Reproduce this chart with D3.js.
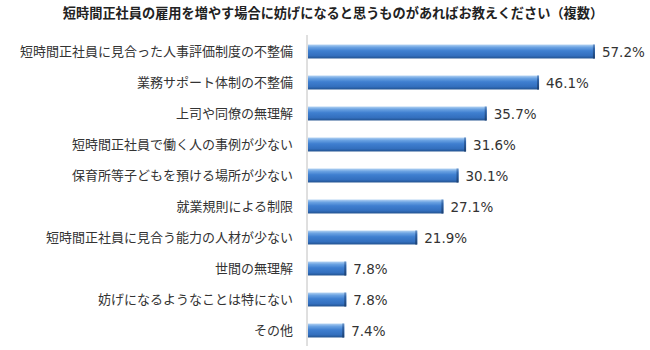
<!DOCTYPE html>
<html>
<head>
<meta charset="utf-8">
<script src="https://cdn.jsdelivr.net/npm/d3@7"></script>
<style>
  html, body { margin: 0; padding: 0; background: #fff; }
  svg { display: block; }
</style>
</head>
<body>
<svg id="chart" width="650" height="350"></svg>
<script>
const title = "短時間正社員の雇用を増やす場合に妨げになると思うものがあればお教えください（複数）";
const categories = [
  "短時間正社員に見合った人事評価制度の不整備",
  "業務サポート体制の不整備",
  "上司や同僚の無理解",
  "短時間正社員で働く人の事例が少ない",
  "保育所等子どもを預ける場所が少ない",
  "就業規則による制限",
  "短時間正社員に見合う能力の人材が少ない",
  "世間の無理解",
  "妨げになるようなことは特にない",
  "その他"
];
const values = [57.2, 46.1, 35.7, 31.6, 30.1, 27.1, 21.9, 7.8, 7.8, 7.4];

const svg = d3.select("#chart");
const jp = "'Noto Sans CJK JP', 'Noto Sans', sans-serif";

const x = d3.scaleLinear().domain([0, 60]).range([307, 609]);
const y = d3.scaleBand().domain(categories).range([36, 346])
  .paddingInner(0.55).paddingOuter(0.275);

// cylinder-like shading for bars
const defs = svg.append("defs");
const g = defs.append("linearGradient").attr("id", "barGrad")
  .attr("x1", 0).attr("y1", 0).attr("x2", 0).attr("y2", 1);
[[0, "#b4d3f3"], [0.2, "#6aa2e2"], [0.45, "#3f7fd0"], [0.8, "#336fbe"], [1, "#22528f"]]
  .forEach(([o, c]) => g.append("stop").attr("offset", o).attr("stop-color", c));
const gc = defs.append("linearGradient").attr("id", "capGrad")
  .attr("x1", 0).attr("y1", 0).attr("x2", 0).attr("y2", 1);
[[0, "#6b95c8"], [0.3, "#2f62a6"], [1, "#1b3f70"]]
  .forEach(([o, c]) => gc.append("stop").attr("offset", o).attr("stop-color", c));

svg.append("text")
  .attr("x", 333).attr("y", 18)
  .attr("text-anchor", "middle")
  .attr("font-family", jp).attr("font-weight", "bold")
  .attr("font-size", 13.2).attr("fill", "#222")
  .text(title);

// category axis line
svg.append("line")
  .attr("x1", x(0)).attr("x2", x(0))
  .attr("y1", 35).attr("y2", 346)
  .attr("stroke", "#c0c0c0").attr("stroke-width", 1);

const rows = svg.append("g").selectAll("g")
  .data(categories.map((c, i) => ({ c, v: values[i] })))
  .join("g");

rows.append("rect")
  .attr("x", x(0) + 1)
  .attr("y", d => y(d.c))
  .attr("width", d => x(d.v) - x(0) - 1)
  .attr("height", y.bandwidth())
  .attr("fill", "url(#barGrad)");

rows.append("rect")
  .attr("x", d => x(d.v) - 2)
  .attr("y", d => y(d.c))
  .attr("width", 2)
  .attr("height", y.bandwidth())
  .attr("fill", "url(#capGrad)");

rows.append("text")
  .attr("x", 293)
  .attr("y", d => y(d.c) + y.bandwidth() / 2 + 4.5)
  .attr("text-anchor", "end")
  .attr("font-family", jp).attr("font-size", 13)
  .attr("fill", "#333")
  .text(d => d.c);

rows.append("text")
  .attr("x", d => x(d.v) + 7)
  .attr("y", d => y(d.c) + y.bandwidth() / 2 + 5)
  .attr("font-family", "'DejaVu Sans', Verdana, sans-serif").attr("font-size", 13.5)
  .attr("fill", "#333")
  .text(d => d.v.toFixed(1) + "%");
</script>
</body>
</html>
